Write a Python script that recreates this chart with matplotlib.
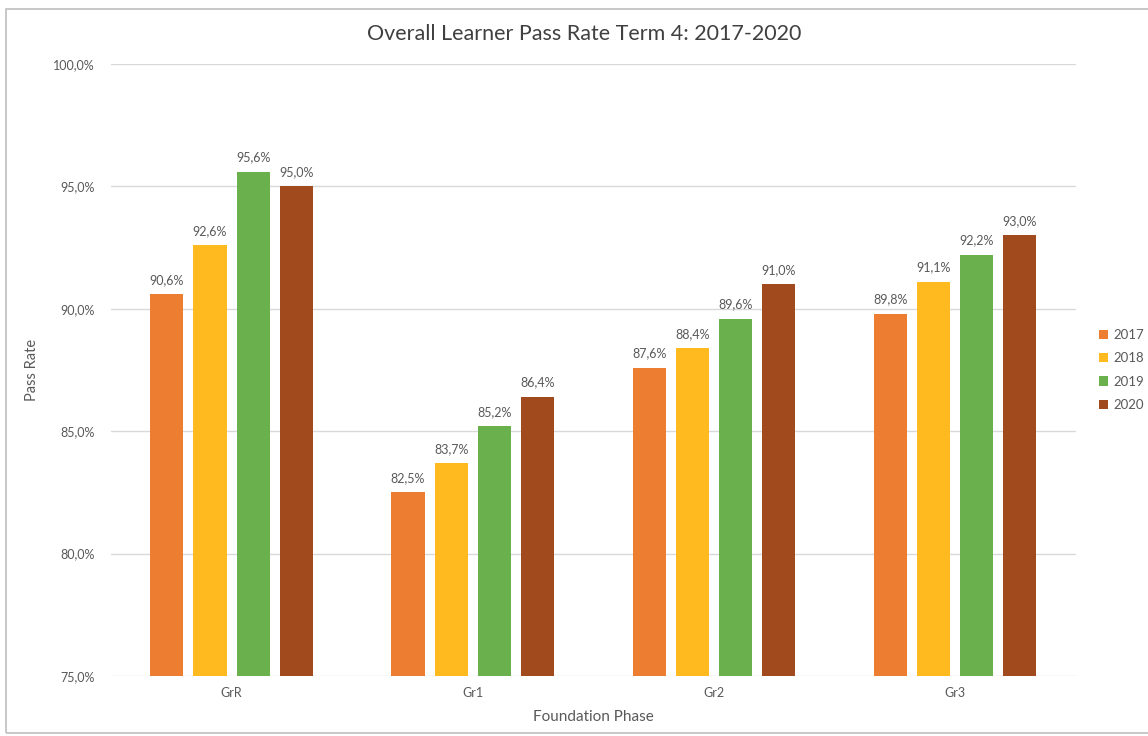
import numpy as np
import matplotlib.pyplot as plt
from matplotlib.patches import Rectangle

plt.rcParams['font.family'] = ['Lato', 'DejaVu Sans']

grades = ['GrR', 'Gr1', 'Gr2', 'Gr3']
years = ['2017', '2018', '2019', '2020']
rate_2017 = [90.6, 82.5, 87.6, 89.8]
rate_2018 = [92.6, 83.7, 88.4, 91.1]
rate_2019 = [95.6, 85.2, 89.6, 92.2]
rate_2020 = [95.0, 86.4, 91.0, 93.0]
colors = ['#ED7D31', '#FFBA1F', '#6AB04C', '#A14A1E']

series = [rate_2017, rate_2018, rate_2019, rate_2020]
text_grey = '#595959'


def pct(v):
    return f'{v:.1f}%'.replace('.', ',')


fig = plt.figure(figsize=(11.48, 7.36), dpi=100)
ax = fig.add_axes([0.0967, 0.0815, 0.8403, 0.8315])

x = np.arange(len(grades))
width = 0.137
step = 0.179
for i, (vals, year, c) in enumerate(zip(series, years, colors)):
    pos = x + (i - 1.5) * step
    ax.bar(pos, vals, width=width, color=c, label=year, zorder=3)
    for px, v in zip(pos, vals):
        ax.annotate(pct(v), (px, v), xytext=(0, 6), textcoords='offset points',
                    ha='center', va='bottom', fontsize=9, color=text_grey)

ax.set_xlim(-0.5, 3.5)
ax.set_ylim(75, 100)
ax.set_yticks([75, 80, 85, 90, 95, 100])
ax.set_yticklabels([pct(v) for v in [75, 80, 85, 90, 95, 100]])
ax.set_xticks(x)
ax.set_xticklabels(grades)
ax.tick_params(length=0, labelsize=9, colors=text_grey, pad=8)
ax.tick_params(axis='y', pad=12)
ax.grid(axis='y', color='#D9D9D9', linewidth=1, zorder=0)
for s in ax.spines.values():
    s.set_visible(False)

fig.text(584 / 1148, 1 - 34 / 736, 'Overall Learner Pass Rate Term 4: 2017-2020',
         fontsize=15.5, color='#404040', ha='center', va='center')
ax.set_xlabel('Foundation Phase', fontsize=11, color=text_grey, labelpad=8)
ax.set_ylabel('Pass Rate', fontsize=10.5, color=text_grey, labelpad=10)

leg = ax.legend(loc='center left', bbox_to_anchor=(1.012, 0.5), frameon=False,
                fontsize=9.5, handlelength=0.7, handleheight=0.7,
                handletextpad=0.4, labelspacing=0.85)
for t in leg.get_texts():
    t.set_color(text_grey)

# outer chart border
fig.patches.append(Rectangle((6 / 1148, 3 / 736), 1.1, 724 / 736,
                             transform=fig.transFigure, fill=False,
                             edgecolor='#BFBFBF', linewidth=1.2))

fig.savefig('out.png', dpi=100)
